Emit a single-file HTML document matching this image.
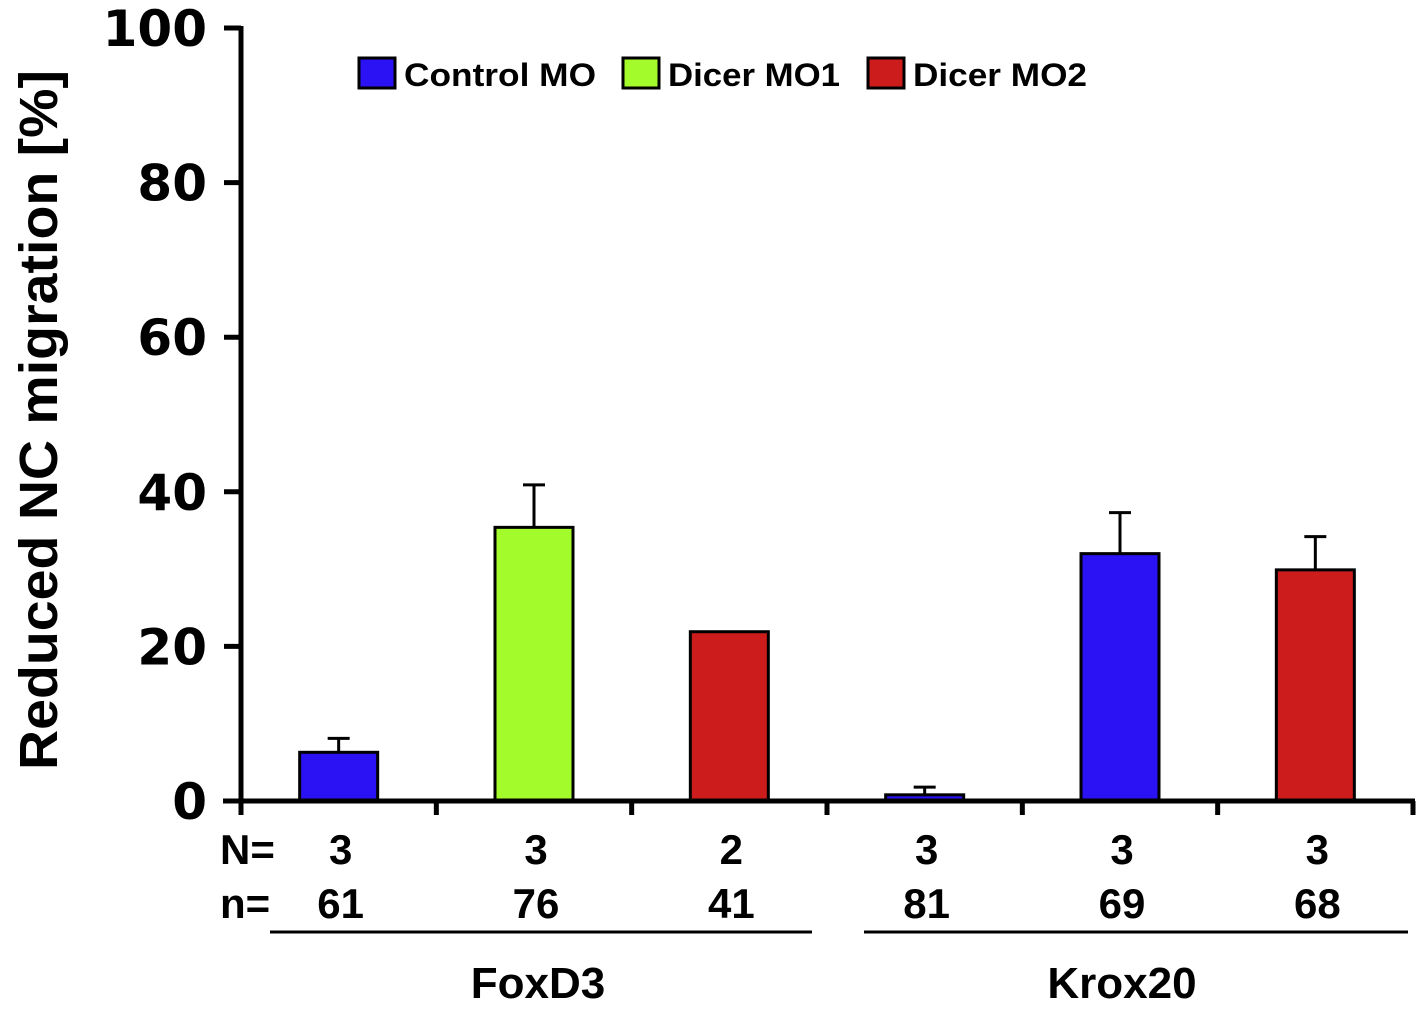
<!DOCTYPE html>
<html><head><meta charset="utf-8"><style>
body{margin:0;background:#fff}
svg text{font-family:"Liberation Sans",sans-serif;font-weight:bold;fill:#000}
</style></head><body>
<svg id="chart" width="1425" height="1006" xmlns="http://www.w3.org/2000/svg">
<g id="g"></g>
</svg>
<script>
const categories=["FoxD3 Control MO","FoxD3 Dicer MO1","FoxD3 Dicer MO2","Krox20 Control MO","Krox20 Dicer MO1","Krox20 Dicer MO2"];
const values=[6.3,35.4,21.9,0.8,32.0,29.9];
const errors=[1.8,5.5,0,1.0,5.3,4.3];
const colors=["#2a12f5","#a4fb2b","#cc1c1c","#2a12f5","#2a12f5","#cc1c1c"];
const Nvals=["3","3","2","3","3","3"];
const nvals=["61","76","41","81","69","68"];
const yTicks=[0,20,40,60,80,100];
const groups=["FoxD3","Krox20"];
const legendLabels=["Control MO","Dicer MO1","Dicer MO2"];
const legendColors=["#2a12f5","#a4fb2b","#cc1c1c"];

const g=document.getElementById('g');
const NS="http://www.w3.org/2000/svg";
const x0=241,x1=1413,y0=801,yTop=28;
const bw=(x1-x0)/categories.length;
const y=v=>y0-(v/100)*(y0-yTop);
const xc=i=>x0+bw*(i+0.5);
function mk(t,a,txt){const e=document.createElementNS(NS,t);for(const k in a)e.setAttribute(k,a[k]);if(txt!==undefined)e.textContent=txt;g.appendChild(e);return e;}

yTicks.forEach(t=>{
  const l=mk('line',{x1:224,x2:x0,y1:y(t),y2:y(t),stroke:'#000','stroke-width':5});
  
  
  const tx=mk('text',{x:207,y:y(t)+18,'text-anchor':'end','font-size':50,style:'font-family:"DejaVu Sans",sans-serif'},String(t));
  
  
});
values.forEach((v,i)=>{
  const cx=xc(i);
  if(errors[i]>0){
    const e=mk('line',{x1:cx,x2:cx,y1:y(v),y2:y(v+errors[i]),stroke:'#000','stroke-width':3});
    
    
    const c=mk('line',{x1:cx-11,x2:cx+11,y1:y(v+errors[i]),y2:y(v+errors[i]),stroke:'#000','stroke-width':3});
    
    
  }
  const r=mk('rect',{x:cx-39,y:y(v),width:78,height:y0-y(v),fill:colors[i],stroke:'#000','stroke-width':3});
  
  
  const N=mk('text',{x:cx+2,y:864,'text-anchor':'middle','font-size':42},Nvals[i]);
  
  
  const n=mk('text',{x:cx+2,y:918,'text-anchor':'middle','font-size':42},nvals[i]);
  
  
});
const ya=mk('line',{x1:x0,x2:x0,y1:yTop-2,y2:y0+2,stroke:'#000','stroke-width':5});


const xa=mk('line',{x1:x0-18,x2:x1+2,y1:y0,y2:y0,stroke:'#000','stroke-width':5});


for(let i=0;i<=categories.length;i++){
  const t=mk('line',{x1:x0+bw*i,x2:x0+bw*i,y1:y0,y2:815,stroke:'#000','stroke-width':5});
  
  
}
const Nl=mk('text',{x:220,y:864,'font-size':42},'N=');


const nl=mk('text',{x:220,y:918,'font-size':42},'n=');


[[270,812],[864,1408]].forEach((s,i)=>{
  const l=mk('line',{x1:s[0],x2:s[1],y1:932,y2:932,stroke:'#000','stroke-width':3});
  
  
  const t=mk('text',{x:[538,1122][i],y:998,'text-anchor':'middle','font-size':44},groups[i]);
  
  
});
const yt=mk('text',{x:0,y:0,'text-anchor':'middle','font-size':54,textLength:700,lengthAdjust:'spacingAndGlyphs',transform:'translate(57,420) rotate(-90)'},'Reduced NC migration [%]');


const lx=[359,623,868];
const lw=[192,172,174];
legendLabels.forEach((lab,i)=>{
  const r=mk('rect',{x:lx[i],y:58,width:36,height:30,fill:legendColors[i],stroke:'#000','stroke-width':3});
  
  
  const t=mk('text',{x:lx[i]+45,y:86,'font-size':32,textLength:lw[i],lengthAdjust:'spacingAndGlyphs'},lab);
  
  
});
</script>
</body></html>
